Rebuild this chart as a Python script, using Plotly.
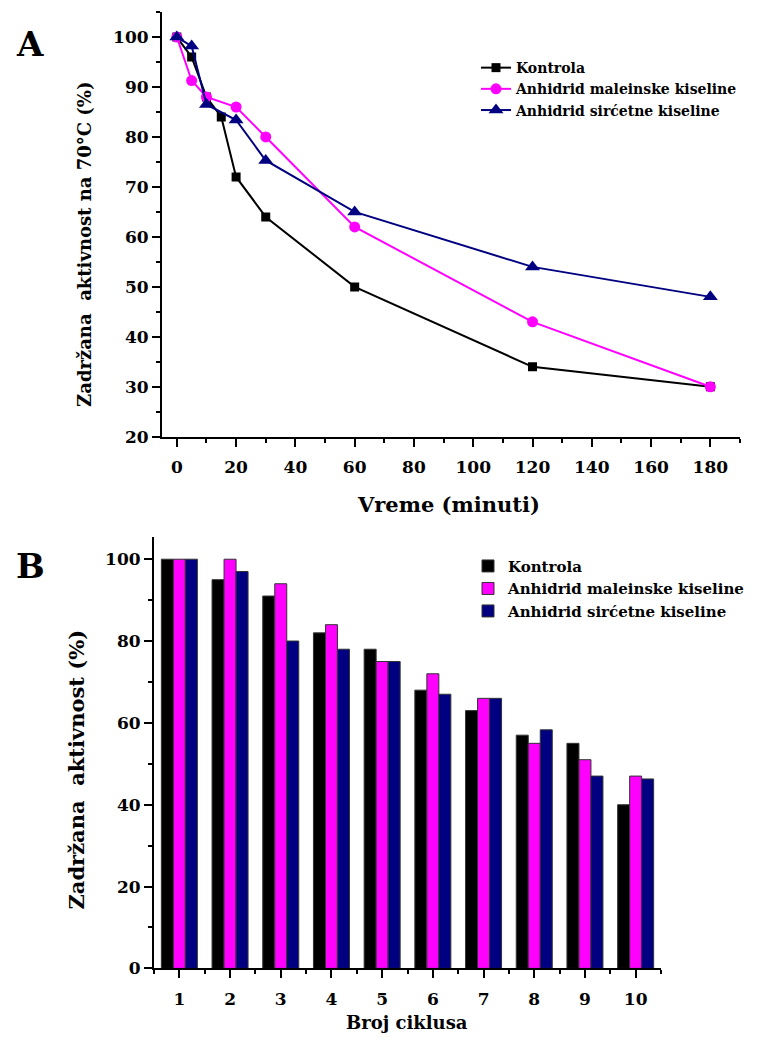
import plotly.graph_objects as go

# ---- Panel A data ----
time_min = [0, 5, 10, 15, 20, 30, 60, 120, 180]
kontrola_a = [100, 96, 88, 84, 72, 64, 50, 34, 30]
time_mal = [0, 5, 10, 20, 30, 60, 120, 180]
maleinska_a = [100, 91.3, 88, 86, 80, 62, 43, 30]
time_sirc = [0, 5, 10, 20, 30, 60, 120, 180]
sircetna_a = [100, 98.2, 86.5, 83.4, 75.3, 65, 54, 48]

# ---- Panel B data ----
cycles = [1, 2, 3, 4, 5, 6, 7, 8, 9, 10]
kontrola_b = [100, 95, 91, 82, 78, 68, 63, 57, 55, 40]
maleinska_b = [100, 100, 94, 84, 75, 72, 66, 55, 51, 47]
sircetna_b = [100, 97, 80, 78, 75, 67, 66, 58.3, 47, 46.3]

names = ["Kontrola", "Anhidrid maleinske kiseline", "Anhidrid sirćetne kiseline"]
colors = ["#000000", "#FF00FF", "#000080"]

# page body has an 8px margin on every side; size the figure to fit the window
OFF = 8
W, H = 764 - 2 * OFF, 1048 - 2 * OFF
SY = 0.991  # empirical vertical correction of the photographed page
FONT = "DejaVu Serif"

def px_x(p):
    return (p - OFF) / W

def px_y(p):
    return 1 - (p / SY - OFF) / H

fig = go.Figure()

# Panel A lines
fig.add_trace(go.Scatter(x=time_min, y=kontrola_a, name=names[0], mode="lines+markers",
                         line=dict(color=colors[0], width=2),
                         marker=dict(symbol="square", size=9, color=colors[0]),
                         xaxis="x", yaxis="y", legend="legend"))
fig.add_trace(go.Scatter(x=time_mal, y=maleinska_a, name=names[1], mode="lines+markers",
                         line=dict(color=colors[1], width=2),
                         marker=dict(symbol="circle", size=11, color=colors[1]),
                         xaxis="x", yaxis="y", legend="legend"))
fig.add_trace(go.Scatter(x=time_sirc, y=sircetna_a, name=names[2], mode="lines+markers",
                         line=dict(color=colors[2], width=2),
                         marker=dict(symbol="triangle-up", size=13, color=colors[2]),
                         xaxis="x", yaxis="y", legend="legend"))

# Panel B bars
for nm, col, vals in zip(names, colors, [kontrola_b, maleinska_b, sircetna_b]):
    fig.add_trace(go.Bar(x=cycles, y=vals, name=nm,
                         marker=dict(color=col, line=dict(color="#333333", width=1)),
                         xaxis="x2", yaxis="y2", legend="legend2"))

tickfont = dict(family=FONT, size=17, color="black", weight="bold")
axis_common = dict(showline=True, linecolor="black", linewidth=2, showgrid=False,
                   zeroline=False, ticks="outside", ticklen=8, tickwidth=2,
                   tickcolor="black", tickfont=tickfont)
minor_common = dict(ticks="outside", ticklen=4, tickwidth=2, tickcolor="black")

fig.update_layout(
    width=W, height=H,
    margin=dict(l=0, r=0, t=0, b=0),
    paper_bgcolor="white", plot_bgcolor="white",
    barmode="group", bargap=0.29, bargroupgap=0,
    xaxis=dict(domain=[px_x(162), px_x(740)], range=[-5, 190], dtick=20, tick0=0,
               anchor="y", ticklabelstandoff=6,
               minor=dict(dtick=10, **minor_common), **axis_common),
    yaxis=dict(domain=[px_y(437), px_y(12)], range=[20, 105], dtick=10, tick0=20,
               anchor="x",
               minor=dict(dtick=5, **minor_common), **axis_common),
    xaxis2=dict(domain=[px_x(154), px_x(661)], range=[0.5, 10.5], tickvals=cycles,
                anchor="y2", ticklabelstandoff=6,
                minor=dict(dtick=0.5, tick0=0.5, **minor_common), **axis_common),
    yaxis2=dict(domain=[px_y(969), px_y(537)], range=[0, 105.5], dtick=20, tick0=0,
                anchor="x2",
                minor=dict(dtick=10, **minor_common), **axis_common),
    legend=dict(x=px_x(476), y=px_y(52), xanchor="left", yanchor="top",
                bgcolor="rgba(0,0,0,0)", tracegroupgap=0,
                font=dict(family=FONT, size=14, color="black", weight="bold")),
    legend2=dict(x=px_x(468), y=px_y(550), xanchor="left", yanchor="top",
                 bgcolor="rgba(0,0,0,0)", tracegroupgap=0,
                 font=dict(family=FONT, size=15, color="black", weight="bold")),
    showlegend=True,
)

def ann(text, x, y, size, angle=0):
    fig.add_annotation(text=text, x=px_x(x), y=px_y(y), xref="paper", yref="paper",
                       xanchor="center", yanchor="middle", textangle=angle,
                       showarrow=False,
                       font=dict(family=FONT, size=size, color="black", weight="bold"))

ann("A", 30, 44, 34)
ann("B", 30, 566, 34)
ann("Vreme (minuti)", 448, 505, 21)
ann("Broj ciklusa", 407, 1023, 18)
ann("Zadržana  aktivnost na 70°C (%)", 85, 245, 18, -90)
ann("Zadržana  aktivnost (%)", 77, 770, 21, -90)

fig.write_html("out.html")
